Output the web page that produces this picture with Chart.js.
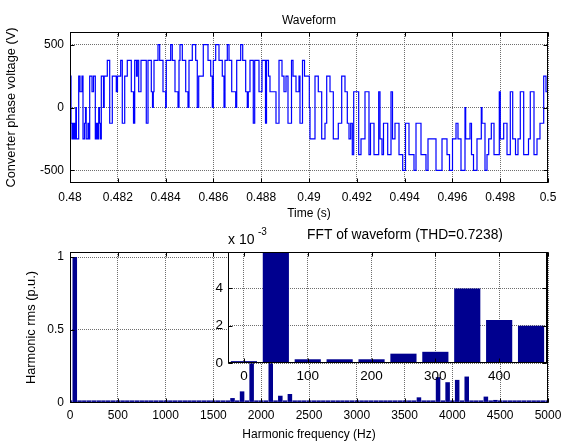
<!DOCTYPE html>
<html>
<head>
<meta charset="utf-8">
<script src="https://cdn.jsdelivr.net/npm/chart.js@4.4.1/dist/chart.umd.min.js"></script>
<style>
  body { margin: 0; background: #fff; }
  .wrap { position: relative; width: 571px; height: 443px; }
  canvas { position: absolute; left: 0; top: 0; }
</style>
</head>
<body>
<div class="wrap">
  <canvas id="wave" width="571" height="443"></canvas>
  <canvas id="fft" width="571" height="443"></canvas>
  <canvas id="zoom" width="571" height="443"></canvas>
</div>
<script>
// switching instants (s) and the level that starts at each instant (V)
const timeS = [
  0.480000, 0.480042, 0.480084, 0.480117, 0.480151, 0.480184, 0.480209, 0.480243, 0.480268, 0.480364,
  0.480418, 0.480502, 0.480544, 0.480607, 0.480649, 0.480678, 0.480753, 0.480795, 0.480824, 0.480921,
  0.480983, 0.481059, 0.481109, 0.481151, 0.481201, 0.481234, 0.481276, 0.481310, 0.481402, 0.481431,
  0.481561, 0.481661, 0.481770, 0.481937, 0.481987, 0.482121, 0.482188, 0.482289, 0.482397, 0.482565,
  0.482657, 0.482707, 0.482782, 0.482816, 0.482874, 0.482971, 0.483192, 0.483264, 0.483402, 0.483452,
  0.483485, 0.483515, 0.483682, 0.483753, 0.483891, 0.484004, 0.484029, 0.484213, 0.484280, 0.484393,
  0.484519, 0.484561, 0.484603, 0.484699, 0.484841, 0.484937, 0.484979, 0.485117, 0.485259, 0.485326,
  0.485385, 0.485577, 0.485774, 0.485887, 0.485954, 0.485996, 0.486096, 0.486234, 0.486372, 0.486444,
  0.486485, 0.486582, 0.486653, 0.486766, 0.486933, 0.486975, 0.487142, 0.487226, 0.487351, 0.487418,
  0.487460, 0.487531, 0.487669, 0.487728, 0.487908, 0.488033, 0.488180, 0.488222, 0.488305, 0.488368,
  0.488619, 0.488745, 0.488870, 0.488954, 0.489038, 0.489121, 0.489268, 0.489331, 0.489456, 0.489582,
  0.489623, 0.489728, 0.489812, 0.490013, 0.490042, 0.490251, 0.490389, 0.490531, 0.490669, 0.490741,
  0.490879, 0.491017, 0.491226, 0.491368, 0.491506, 0.491603, 0.491674, 0.491745, 0.491812, 0.491870,
  0.492079, 0.492176, 0.492343, 0.492510, 0.492573, 0.492720, 0.492916, 0.492971, 0.493054, 0.493117,
  0.493293, 0.493431, 0.493494, 0.493598, 0.493766, 0.493921, 0.494038, 0.494184, 0.494393, 0.494477,
  0.494686, 0.494895, 0.494979, 0.495314, 0.495565, 0.495774, 0.495879, 0.496004, 0.496151, 0.496234,
  0.496360, 0.496527, 0.496556, 0.496736, 0.496799, 0.496883, 0.497029, 0.497209, 0.497238, 0.497364,
  0.497448, 0.497519, 0.497628, 0.497741, 0.497962, 0.498004, 0.498146, 0.498285, 0.498423, 0.498523,
  0.498640, 0.498745, 0.498841, 0.498983, 0.499184, 0.499259, 0.499414, 0.499540, 0.499665, 0.499820,
  0.499916, 0.500000
];
const voltageV = [
  250, -125, -250, -125, -250, -125, -250, 0, -250, 250,
  125, 250, -250, -125, 0, -250, -125, -250, 250, 125,
  250, -250, -125, -250, 0, -125, -250, 250, 0, 250,
  375, -125, 250, 125, 250, 375, -125, 250, 375, 125,
  -125, 375, 250, 375, 125, 375, -125, 375, 125, 0,
  125, 375, 500, 375, 125, 0, 375, 500, 375, 125,
  0, 375, 500, 375, 125, 0, 375, 500, 375, 0,
  250, 500, 375, 250, 0, 375, 500, 375, 250, 0,
  375, 500, 375, 125, 0, 375, 500, 375, 125, 0,
  125, 375, -125, 375, 125, 375, -125, 375, 250, 125,
  -125, 375, 250, 125, 250, -125, 375, 250, 125, 250,
  -125, 375, 250, 0, -250, 250, 125, -250, -125, 250,
  125, -250, -125, 250, 125, -125, -250, -125, -375, 125,
  -375, -250, 125, -375, -125, -375, 125, -250, -375, -125,
  -375, 125, -250, -125, -375, -500, -125, -375, -500, -125,
  -375, -500, -250, -500, -250, -375, -500, -250, -125, -250,
  -500, 0, -250, -125, -375, -500, -250, 0, -125, -500,
  -375, -250, -125, -375, 125, -250, -125, -375, 125, -250,
  -375, -250, 125, -375, -250, 125, -375, -250, -125, 250,
  125, 125
];
const timeTicks = [0.48, 0.482, 0.484, 0.486, 0.488, 0.49, 0.492, 0.494, 0.496, 0.498, 0.5];
const voltTicks = [-500, 0, 500];

// harmonic spectrum, 50 Hz bins
const harmFreq = [
  0, 50, 100, 150, 200, 250, 300, 350, 400, 450,
  500, 550, 600, 650, 700, 750, 800, 850, 900, 950,
  1000, 1050, 1100, 1150, 1200, 1250, 1300, 1350, 1400, 1450,
  1500, 1550, 1600, 1650, 1700, 1750, 1800, 1850, 1900, 1950,
  2000, 2050, 2100, 2150, 2200, 2250, 2300, 2350, 2400, 2450,
  2500, 2550, 2600, 2650, 2700, 2750, 2800, 2850, 2900, 2950,
  3000, 3050, 3100, 3150, 3200, 3250, 3300, 3350, 3400, 3450,
  3500, 3550, 3600, 3650, 3700, 3750, 3800, 3850, 3900, 3950,
  4000, 4050, 4100, 4150, 4200, 4250, 4300, 4350, 4400, 4450,
  4500, 4550, 4600, 4650, 4700, 4750, 4800, 4850, 4900, 4950,
  5000
];
const harmRms = [
  0.0001, 1, 0.0002, 0.0002, 0.0002, 0.0005, 0.0006, 0.004, 0.0023, 0.002,
  0.0003, 0.0002, 0.0003, 0.0002, 0.0003, 0.0002, 0.0003, 0.0002, 0.0003, 0.0002,
  0.0003, 0.0002, 0.0003, 0.0002, 0.0003, 0.0002, 0.0003, 0.0002, 0.0003, 0.0002,
  0.0003, 0.0002, 0.0004, 0.0003, 0.03, 0.0003, 0.076, 0.0004, 0.45, 0.0004,
  0.0003, 0.0004, 0.45, 0.0004, 0.046, 0.0003, 0.058, 0.0003, 0.012, 0.0003,
  0.0002, 0.0003, 0.0002, 0.0003, 0.0002, 0.0003, 0.0002, 0.0003, 0.0002, 0.0003,
  0.0002, 0.0003, 0.0002, 0.0003, 0.0002, 0.0003, 0.0002, 0.0003, 0.0002, 0.0003,
  0.0003, 0.012, 0.0003, 0.035, 0.0003, 0.0004, 0.0003, 0.174, 0.0004, 0.139,
  0.0004, 0.155, 0.0004, 0.178, 0.0003, 0.0004, 0.0003, 0.04, 0.0003, 0.017,
  0.0003, 0.0002, 0.0003, 0.0002, 0.0003, 0.0002, 0.0003, 0.0002, 0.0003, 0.0002,
  0.0003
];
const freqTicks = [0, 500, 1000, 1500, 2000, 2500, 3000, 3500, 4000, 4500, 5000];
const rmsTicks = [0, 0.5, 1];
const zoomBins = 10;
const zoomFreqTicks = [0, 100, 200, 300, 400];
const zoomRmsTicks = [0, 0.002, 0.004];

Chart.defaults.font.family = '"Liberation Sans", Arial, sans-serif';
Chart.defaults.font.size = 12;
Chart.defaults.color = '#000';

const gridStyle = { color: '#6e6e6e', lineWidth: 1, drawTicks: false };
const gridBorder = { display: false, dash: [1, 1] };

// black box with inward tick marks, like matlab axes
const axesBox = {
  id: 'axesBox',
  beforeDraw(chart, args, opts) {
    if (!opts.fill) return;
    const { ctx, chartArea: a } = chart;
    ctx.save();
    ctx.fillStyle = '#fff';
    ctx.fillRect(a.left, a.top, a.right - a.left, a.bottom - a.top);
    ctx.restore();
  },
  afterDatasetsDraw(chart) {
    const { ctx, chartArea: a, scales: { x, y } } = chart;
    const l = Math.round(a.left) + 0.5, r = Math.round(a.right) - 0.5;
    const t = Math.round(a.top) + 0.5, b = Math.round(a.bottom) - 0.5;
    ctx.save();
    ctx.strokeStyle = '#000';
    ctx.lineWidth = 1;
    ctx.beginPath();
    x.ticks.forEach(tk => {
      const px = Math.round(x.getPixelForValue(tk.value)) + 0.5;
      ctx.moveTo(px, b); ctx.lineTo(px, b - 4);
      ctx.moveTo(px, t); ctx.lineTo(px, t + 4);
    });
    y.ticks.forEach(tk => {
      const py = Math.round(y.getPixelForValue(tk.value)) + 0.5;
      ctx.moveTo(l, py); ctx.lineTo(l + 4, py);
      ctx.moveTo(r, py); ctx.lineTo(r - 4, py);
    });
    ctx.stroke();
    ctx.strokeRect(l, t, r - l, b - t);
    ctx.restore();
  }
};

const texts = {
  id: 'texts',
  afterDraw(chart, args, opts) {
    const { ctx } = chart;
    ctx.save();
    ctx.fillStyle = '#000';
    ctx.textBaseline = 'middle';
    (opts.items || []).forEach(it => {
      ctx.font = (it.size || 12) + 'px "Liberation Sans", Arial, sans-serif';
      ctx.textAlign = it.align || 'center';
      ctx.fillText(it.text, it.x, it.y);
    });
    ctx.restore();
  }
};

const setTicks = list => scale => { scale.ticks = list.map(v => ({ value: v })); };

new Chart(document.getElementById('wave'), {
  type: 'line',
  data: {
    datasets: [{
      data: timeS.map((t, i) => ({ x: t, y: voltageV[i] })),
      borderColor: '#0000ff',
      borderWidth: 1.2,
      pointRadius: 0,
      stepped: true,
      fill: false
    }]
  },
  options: {
    responsive: false,
    animation: false,
    events: [],
    layout: { padding: { left: 0, top: 32, right: 23, bottom: 218 } },
    plugins: {
      legend: { display: false },
      tooltip: { enabled: false },
      texts: { items: [{ text: 'Waveform', x: 309, y: 21 }] }
    },
    scales: {
      x: {
        type: 'linear', min: 0.48, max: 0.5,
        afterBuildTicks: setTicks(timeTicks),
        afterFit: s => { s.height = 42; },
        ticks: { padding: 7, maxRotation: 0, autoSkip: false, callback: v => String(v) },
        grid: gridStyle, border: gridBorder,
        title: { display: true, text: 'Time (s)', padding: { top: 0, bottom: 4 } }
      },
      y: {
        min: -600, max: 600,
        afterBuildTicks: setTicks(voltTicks),
        afterFit: s => { s.width = 70; },
        ticks: { padding: 6, callback: v => String(v) },
        grid: gridStyle, border: gridBorder,
        title: { display: true, text: 'Converter phase voltage (V)', font: { size: 12.8 }, padding: { top: 4, bottom: 0 } }
      }
    }
  },
  plugins: [axesBox, texts]
});

new Chart(document.getElementById('fft'), {
  type: 'bar',
  data: {
    datasets: [{
      data: harmFreq.map((f, i) => ({ x: f, y: harmRms[i] })),
      backgroundColor: '#00008f',
      borderWidth: 0,
      barPercentage: 0.95,
      categoryPercentage: 1,
      minBarLength: 2
    }]
  },
  options: {
    responsive: false,
    animation: false,
    events: [],
    layout: { padding: { left: 20, top: 252, right: 23, bottom: 0 } },
    plugins: {
      legend: { display: false },
      tooltip: { enabled: false },
      texts: { items: [{ text: 'FFT of waveform (THD=0.7238)', x: 405, y: 235, size: 13.8 }] }
    },
    scales: {
      x: {
        type: 'linear', min: 0, max: 5000, offset: false,
        afterBuildTicks: setTicks(freqTicks),
        afterFit: s => { s.height = 40; },
        ticks: { padding: 5, maxRotation: 0, autoSkip: false, callback: v => String(v) },
        grid: Object.assign({ offset: false }, gridStyle), border: gridBorder,
        title: { display: true, text: 'Harmonic frequency (Hz)', padding: { top: 0, bottom: 1 } }
      },
      y: {
        min: -0.004, max: 1.035,
        afterBuildTicks: setTicks(rmsTicks),
        afterFit: s => { s.width = 50; },
        ticks: { padding: 6, callback: v => String(v) },
        grid: gridStyle, border: gridBorder,
        title: { display: true, text: 'Harmonic rms (p.u.)', font: { size: 12.8 }, padding: { top: 4, bottom: 0 } }
      }
    }
  },
  plugins: [axesBox, texts]
});

new Chart(document.getElementById('zoom'), {
  type: 'bar',
  data: {
    datasets: [{
      data: harmFreq.slice(0, zoomBins).map((f, i) => ({ x: f, y: harmRms[i] })),
      backgroundColor: '#00008f',
      borderWidth: 0,
      barPercentage: 0.82,
      categoryPercentage: 1
    }]
  },
  options: {
    responsive: false,
    animation: false,
    events: [],
    layout: { padding: { left: 190, top: 252, right: 24, bottom: 60 } },
    plugins: {
      legend: { display: false },
      tooltip: { enabled: false },
      axesBox: { fill: true },
      texts: {
        items: [
          { text: 'x 10', x: 228, y: 240, align: 'left', size: 14 },
          { text: '-3', x: 258, y: 232, align: 'left', size: 10 }
        ]
      }
    },
    scales: {
      x: {
        type: 'linear', min: -25, max: 475, offset: false,
        afterBuildTicks: setTicks(zoomFreqTicks),
        afterFit: s => { s.height = 20; },
        ticks: { padding: 5, maxRotation: 0, autoSkip: false, font: { size: 13.5 }, callback: v => String(v) },
        grid: Object.assign({ offset: false }, gridStyle), border: gridBorder
      },
      y: {
        min: 0, max: 0.00595,
        afterBuildTicks: setTicks(zoomRmsTicks),
        afterFit: s => { s.width = 38; },
        ticks: { padding: 5, font: { size: 13.5 }, callback: v => String(Math.round(v * 1000)) },
        grid: gridStyle, border: gridBorder
      }
    }
  },
  plugins: [axesBox, texts]
});
</script>
</body>
</html>
